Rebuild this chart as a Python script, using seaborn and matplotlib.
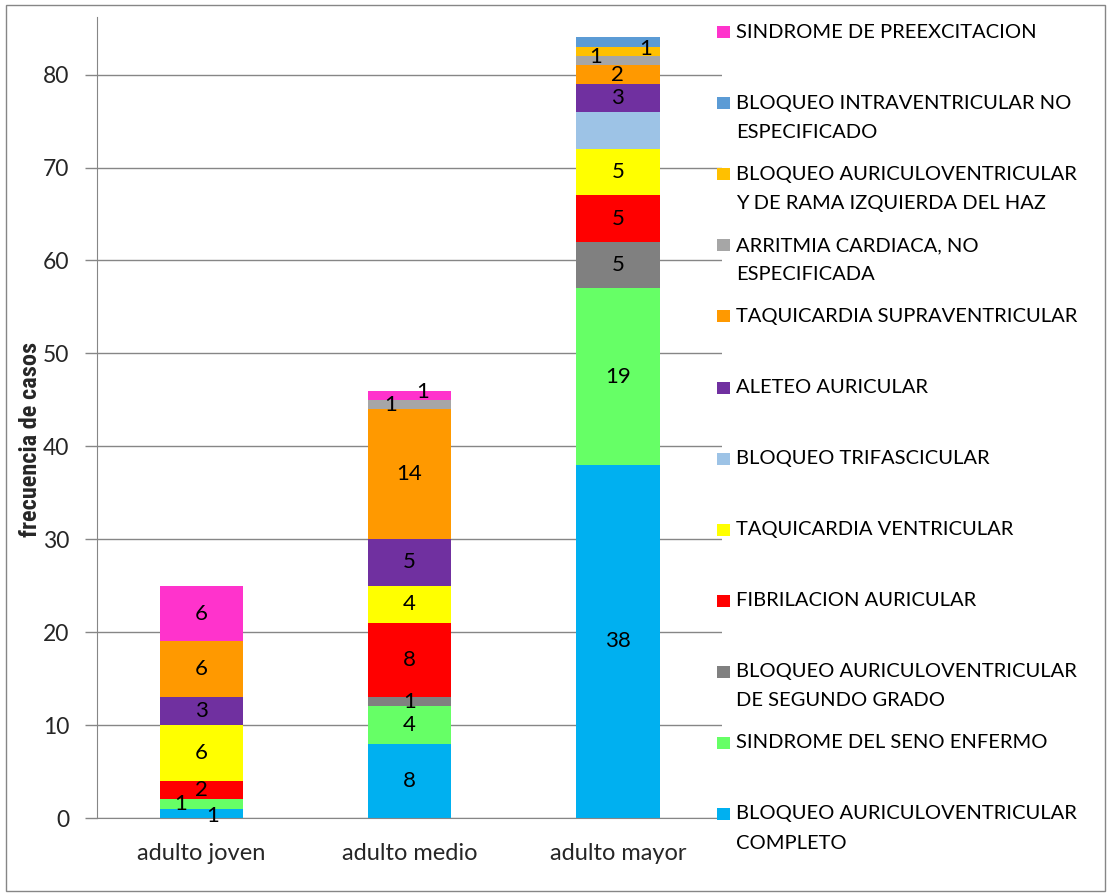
import matplotlib
matplotlib.use("Agg")
import matplotlib.pyplot as plt
import seaborn as sns
import numpy as np
from matplotlib.patches import Rectangle

# ---------------- data ----------------
categories = ["adulto joven", "adulto medio", "adulto mayor"]

series_names = [
    "BLOQUEO AURICULOVENTRICULAR\nCOMPLETO",
    "SINDROME DEL SENO ENFERMO",
    "BLOQUEO AURICULOVENTRICULAR\nDE SEGUNDO GRADO",
    "FIBRILACION AURICULAR",
    "TAQUICARDIA VENTRICULAR",
    "BLOQUEO TRIFASCICULAR",
    "ALETEO AURICULAR",
    "TAQUICARDIA SUPRAVENTRICULAR",
    "ARRITMIA CARDIACA, NO\nESPECIFICADA",
    "BLOQUEO AURICULOVENTRICULAR\nY DE RAMA IZQUIERDA DEL HAZ",
    "BLOQUEO INTRAVENTRICULAR NO\nESPECIFICADO",
    "SINDROME DE PREEXCITACION",
]
bloqueo_av_completo = [1, 8, 38]
seno_enfermo = [1, 4, 19]
bloqueo_av_segundo = [0, 1, 5]
fibrilacion = [2, 8, 5]
taq_ventricular = [6, 4, 5]
bloqueo_trifascicular = [0, 0, 4]
aleteo = [3, 5, 3]
taq_supraventricular = [6, 14, 2]
arritmia = [0, 1, 1]
bloqueo_av_rama = [0, 0, 1]
bloqueo_intraventricular = [0, 0, 1]
preexcitacion = [6, 1, 0]

series_values = [bloqueo_av_completo, seno_enfermo, bloqueo_av_segundo, fibrilacion,
                 taq_ventricular, bloqueo_trifascicular, aleteo, taq_supraventricular,
                 arritmia, bloqueo_av_rama, bloqueo_intraventricular, preexcitacion]

colors = ["#00B0F0", "#66FF66", "#808080", "#FF0000", "#FFFF00", "#9DC3E6",
          "#7030A0", "#FF9900", "#A6A6A6", "#FFC000", "#5B9BD5", "#FF33CC"]

# labels not shown in the original (series index, category index)
hidden_labels = {(5, 2), (10, 2)}
# pixel offsets for crowded labels (series index, category index) -> (dx, dy)
label_offsets = {
    (0, 0): (11, -3), (1, 0): (-21, 0),
    (8, 1): (-19, -1), (11, 1): (13, 3),
    (8, 2): (-22, 4), (9, 2): (28, 2),
}

# ---------------- style ----------------
sns.set_style("white")
plt.rcParams['font.family'] = ['Lato', 'DejaVu Sans']

W, H = 1111, 896
fig = plt.figure(figsize=(W / 100, H / 100), dpi=100)
ax = fig.add_axes([97 / W, 1 - 818 / H, (722 - 97) / W, (818 - 17) / H])

bottom = np.zeros(len(categories))
for i, (vals, col) in enumerate(zip(series_values, colors)):
    sns.barplot(x=categories, y=vals, bottom=bottom, color=col, width=0.4,
                saturation=1, ax=ax, edgecolor="none", linewidth=0, zorder=3)
    for j, v in enumerate(vals):
        if v == 0 or (i, j) in hidden_labels:
            continue
        dx, dy = label_offsets.get((i, j), (0, 0))
        ax.annotate(str(v), xy=(j, bottom[j] + v / 2), xytext=(dx, dy),
                    textcoords="offset pixels", ha="center", va="center",
                    fontsize=16, color="black", zorder=5)
    bottom = bottom + np.array(vals)

ax.set_ylim(0, 86.2)
ax.set_xlim(-0.5, 2.5)
ax.set_yticks(range(0, 81, 10))
ax.set_yticklabels([str(v) for v in range(0, 81, 10)], fontsize=16.5)
ax.yaxis.grid(True, color="#868686", linewidth=1, zorder=0)
ax.xaxis.grid(False)
ax.set_axisbelow(True)

ax.set_xticks([-0.5, 0.5, 1.5, 2.5])
ax.set_xticklabels([])
ax.set_xticks([0, 1, 2], minor=True)
ax.set_xticklabels(categories, minor=True, fontsize=17)
ax.tick_params(axis="x", which="major", direction="out", length=9, color="#868686", width=1)
ax.tick_params(axis="x", which="minor", length=0, pad=18)
ax.tick_params(axis="y", direction="out", length=9, color="#868686", width=1, pad=11, left=True)
ax.set_xlabel("")
ax.set_ylabel("frecuencia de casos", fontsize=17.5, fontweight="bold",
              family=['Roboto Condensed', 'Roboto', 'DejaVu Sans'])
ax.yaxis.set_label_coords(-0.088, 0.473)

for s in ["top", "right"]:
    ax.spines[s].set_visible(False)
ax.spines["left"].set_color("#868686")
ax.spines["bottom"].set_color("#868686")
ax.spines["left"].set_zorder(4)
ax.spines["bottom"].set_zorder(4)

# ---------------- legend (manual, Excel-like) ----------------
y0 = 32.5
step = 71
for k, idx in enumerate(range(len(series_names) - 1, -1, -1)):
    ypx = y0 + step * k
    fig.add_artist(Rectangle((717 / W, 1 - (ypx + 6) / H), 13 / W, 12 / H,
                             transform=fig.transFigure, facecolor=colors[idx],
                             edgecolor="none"))
    for li, line in enumerate(series_names[idx].split("\n")):
        fig.text(736 / W, 1 - (ypx + 29.5 * li) / H, line, ha="left", va="center",
                 fontsize=14.5, color="black")

# outer frame
fig.add_artist(Rectangle((6 / W, 5 / H), (W - 12) / W, (H - 10) / H,
                         transform=fig.transFigure, fill=False,
                         edgecolor="#868686", linewidth=1))

fig.savefig("out.png", dpi=100)
